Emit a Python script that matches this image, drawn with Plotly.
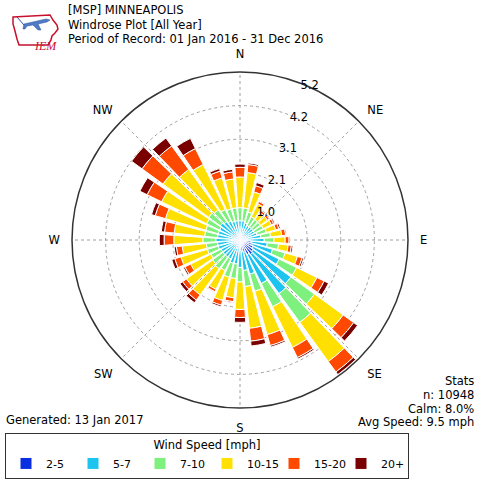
import plotly.graph_objects as go

# wind direction bins (degrees, 10 deg each)
directions = list(range(0, 360, 10))

# frequency (%) per speed bin, for each direction 0..350
spd_2_5 = [0.20, 0.20, 0.20, 0.20, 0.20, 0.20, 0.20, 0.20, 0.25, 0.30,
           0.35, 0.40, 0.45, 0.50, 0.55, 0.50, 0.40, 0.35, 0.30, 0.25,
           0.25, 0.20, 0.20, 0.20, 0.20, 0.20, 0.20, 0.20, 0.20, 0.20,
           0.20, 0.20, 0.20, 0.20, 0.20, 0.20]
spd_5_7 = [0.40, 0.40, 0.35, 0.30, 0.30, 0.30, 0.30, 0.35, 0.40, 0.45,
           0.50, 0.65, 0.90, 1.45, 1.50, 1.00, 0.70, 0.60, 0.55, 0.50,
           0.50, 0.45, 0.45, 0.45, 0.45, 0.50, 0.50, 0.55, 0.50, 0.50,
           0.50, 0.55, 0.50, 0.45, 0.40, 0.40]
spd_7_10 = [0.40, 0.40, 0.35, 0.30, 0.28, 0.28, 0.30, 0.30, 0.30, 0.30,
            0.35, 0.40, 0.60, 0.90, 1.10, 0.80, 0.55, 0.50, 0.45, 0.45,
            0.45, 0.40, 0.45, 0.40, 0.35, 0.35, 0.35, 0.40, 0.40, 0.40,
            0.45, 0.45, 0.45, 0.40, 0.40, 0.40]
spd_10_15 = [0.95, 1.10, 0.65, 0.45, 0.27, 0.27, 0.28, 0.30, 0.35, 0.35,
             0.30, 0.40, 0.70, 1.10, 1.50, 1.40, 1.40, 1.30, 0.85, 0.60,
             0.75, 0.65, 1.00, 1.00, 0.70, 0.85, 0.75, 0.90, 0.95, 1.30,
             1.55, 1.75, 1.55, 1.55, 1.00, 0.90]
spd_15_20 = [0.30, 0.25, 0.20, 0.08, 0.07, 0.07, 0.08, 0.10, 0.12, 0.12,
             0.10, 0.15, 0.25, 0.40, 0.40, 0.35, 0.35, 0.40, 0.25, 0.12,
             0.15, 0.08, 0.20, 0.15, 0.20, 0.20, 0.18, 0.30, 0.30, 0.33,
             0.50, 0.80, 0.90, 0.55, 0.22, 0.22]
spd_20p = [0.10, 0.05, 0.10, 0.02, 0.03, 0.03, 0.04, 0.05, 0.03, 0.03,
           0.05, 0.05, 0.15, 0.15, 0.10, 0.05, 0.05, 0.15, 0.15, 0.03,
           0.05, 0.02, 0.10, 0.10, 0.05, 0.10, 0.07, 0.15, 0.10, 0.12,
           0.25, 0.40, 0.30, 0.35, 0.08, 0.08]

speed_labels = ["2-5", "5-7", "7-10", "10-15", "15-20", "20+"]
speed_colors = ["#0a2fe0", "#1ec4f0", "#7df07d", "#ffe000", "#ff4800", "#7a0000"]

radial_ticks = [1.04, 2.08, 3.12, 4.16, 5.2]
radial_labels = ["1.0", "2.1", "3.1", "4.2", "5.2"]
compass_deg = [0, 45, 90, 135, 180, 225, 270, 315]
compass_txt = ["N", "NE", "E", "SE", "S", "SW", "W", "NW"]

title_lines = ["[MSP] MINNEAPOLIS", "Windrose Plot [All Year]",
               "Period of Record: 01 Jan 2016 - 31 Dec 2016"]
stats_lines = ["Stats", "n: 10948", "Calm: 8.0%", "Avg Speed: 9.5 mph"]

FONT = "DejaVu Sans"
W = H = 480
TXT = 11.5


def px(x):
    return x / W


def py(y):
    return 1 - y / H


fig = go.Figure()
for vals, name, col in zip([spd_2_5, spd_5_7, spd_7_10, spd_10_15, spd_15_20, spd_20p],
                           speed_labels, speed_colors):
    fig.add_trace(go.Barpolar(
        r=vals, theta=directions, width=8, name=name,
        marker=dict(color=col, line=dict(color="white", width=1)),
    ))

fig.update_layout(
    width=W, height=H,
    margin=dict(l=0, r=0, t=0, b=0),
    paper_bgcolor="white",
    font=dict(family=FONT, size=TXT, color="black"),
    polar=dict(
        domain=dict(x=[px(72), px(408)], y=[py(408), py(72)]),
        bgcolor="white",
        barmode="stack",
        angularaxis=dict(
            rotation=90, direction="clockwise",
            tickmode="array", tickvals=compass_deg, ticktext=compass_txt,
            ticks="outside", ticklen=9, tickcolor="rgba(0,0,0,0)",
            showline=True, linecolor="#333333", linewidth=1.5,
            showgrid=True, gridcolor="#a0a0a0", griddash="dot", gridwidth=1,
            tickfont=dict(size=TXT),
        ),
        radialaxis=dict(
            range=[0, 5.2], angle=71, tickangle=71,
            tickmode="array", tickvals=radial_ticks, ticktext=radial_labels,
            showline=False, ticks="",
            showgrid=True, gridcolor="#a0a0a0", griddash="dot", gridwidth=1,
            tickfont=dict(size=TXT),
        ),
    ),
    legend=dict(
        orientation="h", x=px(5), y=py(433), xanchor="left", yanchor="top",
        title=dict(text="Wind Speed [mph]", side="top center", font=dict(size=TXT)),
        bordercolor="#333333", borderwidth=1, bgcolor="white",
        font=dict(size=11), entrywidth=22, entrywidthmode="pixels",
        traceorder="normal",
    ),
)

# header text
for i, line in enumerate(title_lines):
    fig.add_annotation(x=px(66), y=py(10.5 + 14.3 * i), xref="paper", yref="paper",
                       text=line, showarrow=False, xanchor="left", yanchor="middle",
                       font=dict(size=TXT))

for i, line in enumerate(stats_lines):
    fig.add_annotation(x=px(476), y=py(381 + 13.8 * i), xref="paper", yref="paper",
                       text=line, showarrow=False, xanchor="right", yanchor="middle",
                       font=dict(size=TXT))

fig.add_annotation(x=px(4), y=py(420), xref="paper", yref="paper",
                   text="Generated: 13 Jan 2017", showarrow=False,
                   xanchor="left", yanchor="middle", font=dict(size=TXT))

# IEM logo (rough Iowa outline + plane)
iowa = [(13, 17), (50, 15), (53, 20), (57, 25), (58, 29), (55, 33), (52, 36),
        (51, 40), (48, 45), (19, 45), (17, 39), (15, 31), (13, 24)]
path = "M " + " L ".join(f"{px(a):.4f},{py(b):.4f}" for a, b in iowa) + " Z"
fig.add_shape(type="path", path=path, xref="paper", yref="paper",
              line=dict(color="#c8102e", width=1.5))
plane = [(24, 24), (46, 19), (50, 20), (47, 22), (38, 24), (41, 30), (38, 30),
         (33, 25), (27, 26), (25, 29), (23, 29)]
path = "M " + " L ".join(f"{px(a):.4f},{py(b):.4f}" for a, b in plane) + " Z"
fig.add_shape(type="path", path=path, xref="paper", yref="paper",
              line=dict(color="#2b4fa0", width=0.5), fillcolor="#4f7cc4")
fig.add_shape(type="line", x0=px(17), y0=py(17), x1=px(24), y1=py(25),
              xref="paper", yref="paper", line=dict(color="#2b4fa0", width=1))
fig.add_annotation(x=px(32), y=py(37), xref="paper", yref="paper",
                   text="<i>IEM</i>", showarrow=False,
                   font=dict(family="Liberation Serif", size=12, color="#c8102e"))

# page body has a default 8px margin; drop it so the figure fills the window
fig.write_html("out.html", config={"displayModeBar": False},
               post_script="document.body.style.margin = '0px';")
